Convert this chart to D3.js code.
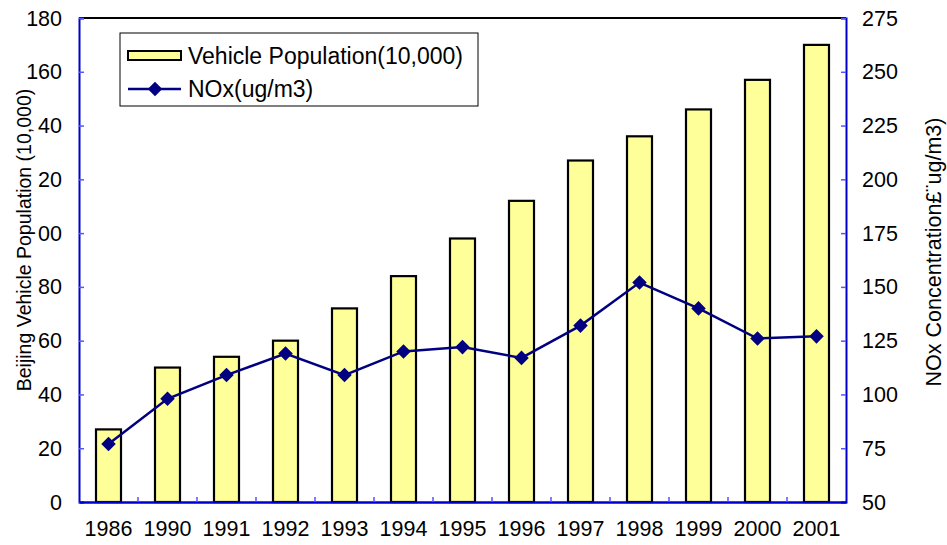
<!DOCTYPE html>
<html>
<head>
<meta charset="utf-8">
<script src="https://cdn.jsdelivr.net/npm/d3@7"></script>
<style>
  body { margin: 0; background: #fff; }
  text { font-family: "Liberation Sans", Arial, sans-serif; }
</style>
</head>
<body>
<script>
// data
var years = ["1986","1990","1991","1992","1993","1994","1995","1996","1997","1998","1999","2000","2001"];
var vehicles = [27, 50, 54, 60, 72, 84, 98, 112, 127, 136, 146, 157, 170];
var nox = [77, 98, 109, 119, 109, 120, 122, 117, 132, 152, 140, 126, 127];
var leftTicks = [0, 20, 40, 60, 80, 100, 120, 140, 160, 180];
var leftTickLabels = ["0","20","40","60","80","00","20","40","160","180"]; // as printed (clipped)
var rightTicks = [50, 75, 100, 125, 150, 175, 200, 225, 250, 275];

var W = 947, H = 545;
var m = {left: 79, right: 101, top: 18, bottom: 43};
var fs = 21.5;

var svg = d3.select("body").append("svg")
    .attr("width", W)
    .attr("height", H);

var x = d3.scaleBand().domain(years).range([m.left, W - m.right]);
var yL = d3.scaleLinear().domain([0, 180]).range([H - m.bottom, m.top]);
var yR = d3.scaleLinear().domain([50, 275]).range([H - m.bottom, m.top]);

//бары
svg.append("g").selectAll("rect")
    .data(years)
    .enter().append("rect")
    .attr("x", function(d){ return x(d) + x.bandwidth()/2 - 12.5; })
    .attr("y", function(d,i){ return yL(vehicles[i]); })
    .attr("width", 25)
    .attr("height", function(d,i){ return yL(0) - yL(vehicles[i]); })
    .attr("fill", "#ffff99")
    .attr("stroke", "#000")
    .attr("stroke-width", 2.2);

// frame
svg.append("line")
    .attr("x1", m.left).attr("x2", W - m.right)
    .attr("y1", m.top).attr("y2", m.top)
    .attr("stroke", "#000").attr("stroke-width", 2);

// left axis
var axL = svg.append("g")
    .attr("transform", "translate(" + m.left + ",0)")
    .call(d3.axisRight(yL).tickValues(leftTicks).tickSize(5).tickFormat(""));
axL.select(".domain").attr("stroke", "#0000cc").attr("stroke-width", 2);
axL.selectAll(".tick line").attr("stroke", "#5555ff").attr("stroke-width", 1.5);

svg.append("g").selectAll("text")
    .data(leftTicks)
    .enter().append("text")
    .attr("x", 62)
    .attr("y", function(d){ return yL(d) + 7.5; })
    .attr("text-anchor", "end")
    .attr("font-size", fs)
    .text(function(d,i){ return leftTickLabels[i]; });

// right axis
var axR = svg.append("g")
    .attr("transform", "translate(" + (W - m.right) + ",0)")
    .call(d3.axisLeft(yR).tickValues(rightTicks).tickSize(5).tickFormat(""));
axR.select(".domain").attr("stroke", "#0000cc").attr("stroke-width", 2);
axR.selectAll(".tick line").attr("stroke", "#5555ff").attr("stroke-width", 1.5);

svg.append("g").selectAll("text")
    .data(rightTicks)
    .enter().append("text")
    .attr("x", 862)
    .attr("y", function(d){ return yR(d) + 7.5; })
    .attr("font-size", fs)
    .text(function(d){ return d; });

// bottom axis
var axB = svg.append("g")
    .attr("transform", "translate(0," + (H - m.bottom) + ")")
    .call(d3.axisTop(x).tickSize(0).tickFormat(""));
axB.select(".domain").attr("stroke", "#0000cc").attr("stroke-width", 2.5);
axB.selectAll(".tick").remove();

svg.append("g").selectAll("line")
    .data(years.slice(1))
    .enter().append("line")
    .attr("x1", function(d){ return x(d); })
    .attr("x2", function(d){ return x(d); })
    .attr("y1", H - m.bottom)
    .attr("y2", H - m.bottom - 5)
    .attr("stroke", "#5555ff")
    .attr("stroke-width", 1.5);

svg.append("g").selectAll("text")
    .data(years)
    .enter().append("text")
    .attr("x", function(d){ return x(d) + x.bandwidth()/2; })
    .attr("y", 536)
    .attr("text-anchor", "middle")
    .attr("font-size", fs)
    .text(function(d){ return d; });

// NOx line
var line = d3.line()
    .x(function(d,i){ return x(years[i]) + x.bandwidth()/2; })
    .y(function(d){ return yR(d); });

svg.append("path")
    .datum(nox)
    .attr("d", line)
    .attr("fill", "none")
    .attr("stroke", "#000080")
    .attr("stroke-width", 2.5);

var diamond = d3.symbol().type(d3.symbolDiamond2).size(135);
svg.append("g").selectAll("path")
    .data(nox)
    .enter().append("path")
    .attr("d", diamond)
    .attr("transform", function(d,i){
        return "translate(" + (x(years[i]) + x.bandwidth()/2) + "," + yR(d) + ")";
    })
    .attr("fill", "#000080");

// axis titles
svg.append("text")
    .attr("transform", "translate(31,240) rotate(-90)")
    .attr("text-anchor", "middle")
    .attr("font-size", 19.5)
    .text("Beijing Vehicle Population (10,000)");

svg.append("text")
    .attr("transform", "translate(941,252) rotate(-90)")
    .attr("text-anchor", "middle")
    .attr("font-size", 21.5)
    .text("NOx Concentration£¨ug/m3)");

// legend
var lg = svg.append("g");
lg.append("rect")
    .attr("x", 120).attr("y", 33)
    .attr("width", 358).attr("height", 73)
    .attr("fill", "#fff")
    .attr("stroke", "#000")
    .attr("stroke-width", 1);
lg.append("rect")
    .attr("x", 128).attr("y", 51)
    .attr("width", 53).attr("height", 9)
    .attr("fill", "#ffff99")
    .attr("stroke", "#000")
    .attr("stroke-width", 2);
lg.append("text")
    .attr("x", 188).attr("y", 64)
    .attr("font-size", 23)
    .text("Vehicle Population(10,000)");
lg.append("line")
    .attr("x1", 128).attr("x2", 181)
    .attr("y1", 89).attr("y2", 89)
    .attr("stroke", "#000080")
    .attr("stroke-width", 2.5);
lg.append("path")
    .attr("d", diamond)
    .attr("transform", "translate(155,89)")
    .attr("fill", "#000080");
lg.append("text")
    .attr("x", 188).attr("y", 97)
    .attr("font-size", 23)
    .text("NOx(ug/m3)");
</script>
</body>
</html>
